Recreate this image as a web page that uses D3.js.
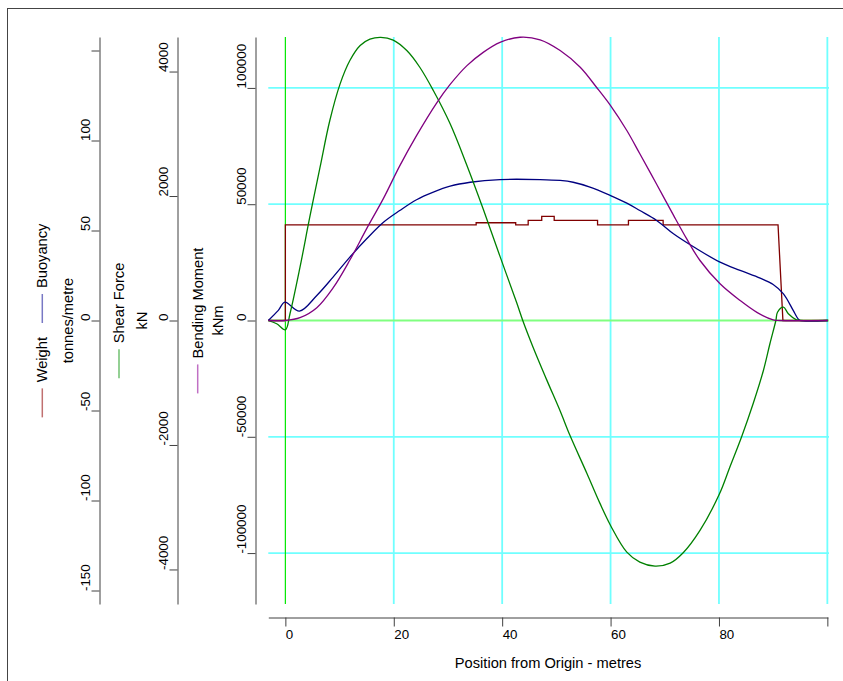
<!DOCTYPE html>
<html>
<head>
<meta charset="utf-8">
<script src="https://cdn.jsdelivr.net/npm/d3@7"></script>
<style>
  body { margin: 0; background: #fff; }
  svg text { font-family: "Liberation Sans", Arial, sans-serif; fill: #000; }
</style>
</head>
<body>
<svg id="chart" width="843" height="681"></svg>
<script>
// ---- data: [position (m), value] --------------------------------------------
var weight = [[-3.15, 0], [0, 0], [0, 53.1], [35.2, 53.1], [35.2, 54.3], [42.5, 54.3], [42.5, 53.1],
  [44.8, 53.1], [44.8, 55.6], [47.3, 55.6], [47.3, 57.9], [49.6, 57.9], [49.6, 55.6], [57.6, 55.6],
  [57.6, 53.1], [63.3, 53.1], [63.3, 55.6], [69.7, 55.6], [69.7, 53.1], [90.9, 53.1], [91.8, 0], [100.1, 0]];
var buoyancy = [[-3.15, 0], [-1.3, 5.6], [-0.1, 10.2], [2.6, 5.2], [5.8, 13.9], [8.8, 24.1], [11.9, 35.2],
  [15.0, 45.4], [18.1, 54.6], [21.1, 61.1], [24.2, 67.1], [27.3, 71.3], [30.4, 74.6], [34.1, 76.8],
  [39.6, 78.3], [47.0, 78.3], [50.7, 77.8], [53.1, 76.8], [56.2, 74.1], [60.0, 69.4], [63.0, 65.2],
  [65.4, 61.1], [68.5, 55.6], [71.6, 48.2], [75.6, 40.4], [80.2, 32.4], [83.9, 27.8], [87.6, 23.5],
  [90.0, 20.0], [91.9, 14.8], [93.7, 5.6], [94.6, 0.9], [95.0, 0], [100.1, 0]];
var shear = [[-3.15, 0], [-1.6, -53], [0, -149], [0.85, 108], [2.7, 856], [4.5, 1659], [6.4, 2463],
  [8.2, 3213], [10.1, 3802], [11.9, 4177], [13.8, 4418], [15.6, 4520], [17.6, 4550], [19.9, 4505],
  [22.4, 4337], [24.8, 4069], [27.3, 3695], [30.4, 3160], [33.5, 2490], [36.5, 1790], [39.6, 1030],
  [42.7, 280], [43.8, 0], [45.7, -429], [48.2, -950], [50.7, -1455], [52.5, -1845], [55.6, -2450],
  [58.0, -2930], [60.0, -3293], [63.0, -3722], [65.4, -3883], [68.2, -3947], [71.0, -3899],
  [73.4, -3732], [76.5, -3373], [80.1, -2784], [82.0, -2357], [84.2, -1863], [86.3, -1338],
  [88.2, -803], [89.4, -374], [90.5, 0], [90.8, 133], [91.9, 214], [92.8, 108], [94.3, 11], [95.0, 0], [100.1, 0]];
var bending = [[-3.15, 0], [0, 0], [2.7, 1200], [5.8, 5500], [8.8, 14000], [11.9, 26000], [15.0, 39500],
  [18.1, 52500], [21.1, 66500], [24.2, 79500], [27.9, 93500], [30.4, 101500], [33.5, 109600],
  [36.5, 115300], [39.6, 119600], [43.3, 121800], [47.0, 120700], [50.7, 116100], [54.4, 108900],
  [57.4, 100300], [60.0, 92400], [63.0, 81700], [65.4, 71700], [68.5, 58600], [71.6, 45300],
  [74.0, 35300], [76.5, 25800], [80.2, 15800], [83.9, 8600], [87.0, 3500], [90.0, 300], [91.2, 0], [100.1, 0]];

var xTicks = [0, 20, 40, 60, 80, 100];
var weightTicks = [-150, -100, -50, 0, 50, 100, 150];
var shearTicks = [-4000, -2000, 0, 2000, 4000];
var bendingTicks = [-100000, -50000, 0, 50000, 100000];
var xTitle = "Position from Origin - metres";

// ---- layout -----------------------------------------------------------------
var plotTop = 37, plotBottom = 604, plotLeft = 268.3, plotRight = 829;
var svg = d3.select("#chart");

var x = d3.scaleLinear().domain([-3.15, 100.1]).range([plotLeft, 827.9]);
var yW = d3.scaleLinear().domain([-157.5, 157.5]).range([plotBottom, plotTop]);
var yS = d3.scaleLinear().domain([-4555, 4555]).range([plotBottom, plotTop]);
var yB = d3.scaleLinear().domain([-121900, 121900]).range([plotBottom, plotTop]);

// outer frame (runs off the picture on the right and bottom)
svg.append("rect").attr("x", 7.5).attr("y", 8.5).attr("width", 900).attr("height", 900)
  .attr("fill", "none").attr("stroke", "#444").attr("stroke-width", 1);

//----------------------------------------------------------------- grid
var grid = svg.append("g");
grid.selectAll(".hgrid").data(bendingTicks.filter(d => d != 0)).join("line").attr("class", "hgrid")
  .attr("x1", plotLeft).attr("x2", plotRight).attr("y1", d => yB(d)).attr("y2", d => yB(d))
  .attr("stroke", "#70ffff").attr("stroke-width", 1.8);
grid.selectAll(".vgrid").data(xTicks).join("line").attr("class", "vgrid")
  .attr("x1", d => x(d)).attr("x2", d => x(d)).attr("y1", plotTop).attr("y2", plotBottom)
  .attr("stroke", d => d == 0 ? "#00e800" : "#70ffff").attr("stroke-width", d => d == 0 ? 1.2 : 1.8);
grid.append("line").attr("x1", plotLeft).attr("x2", plotRight).attr("y1", yB(0)).attr("y2", yB(0))
  .attr("stroke", "#80ff80").attr("stroke-width", 2);

//----------------------------------------------------------------- curves
var smooth = d3.curveCatmullRom.alpha(0.5);
var series = [
  { data: weight, y: yW, color: "#800000", curve: d3.curveLinear },
  { data: buoyancy, y: yW, color: "#000080", curve: smooth },
  { data: shear, y: yS, color: "#008000", curve: smooth },
  { data: bending, y: yB, color: "#800080", curve: smooth }
];
svg.selectAll(".curve").data(series).join("path").attr("class", "curve")
  .attr("fill", "none").attr("stroke", d => d.color).attr("stroke-width", 1.3)
  .attr("d", d => d3.line().x(p => x(p[0])).y(p => d.y(p[1])).curve(d.curve)(d.data));

//----------------------------------------------------------------- axes
function styleAxis(g) {
  g.select(".domain").attr("stroke", "#404040");
  g.selectAll(".tick line").attr("stroke", "#404040");
  g.selectAll(".tick text").attr("font-size", "13.33px").attr("fill", "#000");
}
function leftAxis(scale, ticks, hide, ax) {
  var g = svg.append("g").attr("transform", "translate(" + ax + ",0)")
    .call(d3.axisLeft(scale).tickValues(ticks).tickSize(8).tickSizeOuter(0)
      .tickFormat(d => d == hide ? "" : String(d)));
  styleAxis(g);
  g.selectAll(".tick text").attr("x", null).attr("dy", null).attr("text-anchor", "start")
    .attr("transform", "translate(-10,0) rotate(-90)");
}
leftAxis(yW, weightTicks, 150, 99.5);
leftAxis(yS, shearTicks, null, 177.5);
leftAxis(yB, bendingTicks, null, 255.5);

var xg = svg.append("g").attr("transform", "translate(0,617.5)")
  .call(d3.axisBottom(x).tickValues(xTicks).tickSize(9).tickSizeOuter(0)
    .tickFormat(d => d == 100 ? "" : String(d)));
styleAxis(xg);
xg.selectAll(".tick text").attr("y", 21).attr("dy", null).attr("text-anchor", "start");

svg.append("text").attr("x", (plotLeft + 827.9) / 2).attr("y", 668).attr("text-anchor", "middle")
  .attr("font-size", "14.67px").text(xTitle);

//----------------------------------------------------------------- legends (rotated, stacked bottom-up)
var midY = (plotTop + plotBottom) / 2;
var legends = [
  { cx: 42.3, ux: 68.3, unit: "tonnes/metre", items: [["Weight", "#c07070"], ["Buoyancy", "#7878c4"]] },
  { cx: 119, ux: 141.7, unit: "kN", items: [["Shear Force", "#70c070"]] },
  { cx: 197.7, ux: 218.3, unit: "kNm", items: [["Bending Moment", "#c070c4"]] }
];
legends.forEach(function (lg) {
  var g = svg.append("g");
  var lineLen = 29, gapText = 6, gapItem = 14;
  var texts = lg.items.map(it => g.append("text").attr("font-size", "14.67px").attr("text-anchor", "start").text(it[0]));
  var lens = texts.map(t => t.node().getComputedTextLength());
  var total = d3.sum(lens) + lg.items.length * (lineLen + gapText) + gapItem * (lg.items.length - 1);
  var y = midY + total / 2;
  lg.items.forEach(function (it, i) {
    g.append("line").attr("x1", lg.cx).attr("x2", lg.cx).attr("y1", y).attr("y2", y - lineLen)
      .attr("stroke", it[1]).attr("stroke-width", 1.5);
    y -= lineLen + gapText;
    texts[i].attr("transform", "translate(" + (lg.cx + 5.1) + "," + y + ") rotate(-90)");
    y -= lens[i] + gapItem;
  });
  g.append("text").attr("font-size", "14.67px").attr("text-anchor", "middle")
    .attr("transform", "translate(" + (lg.ux + 5.1) + "," + midY + ") rotate(-90)").text(lg.unit);
});
</script>
</body>
</html>
